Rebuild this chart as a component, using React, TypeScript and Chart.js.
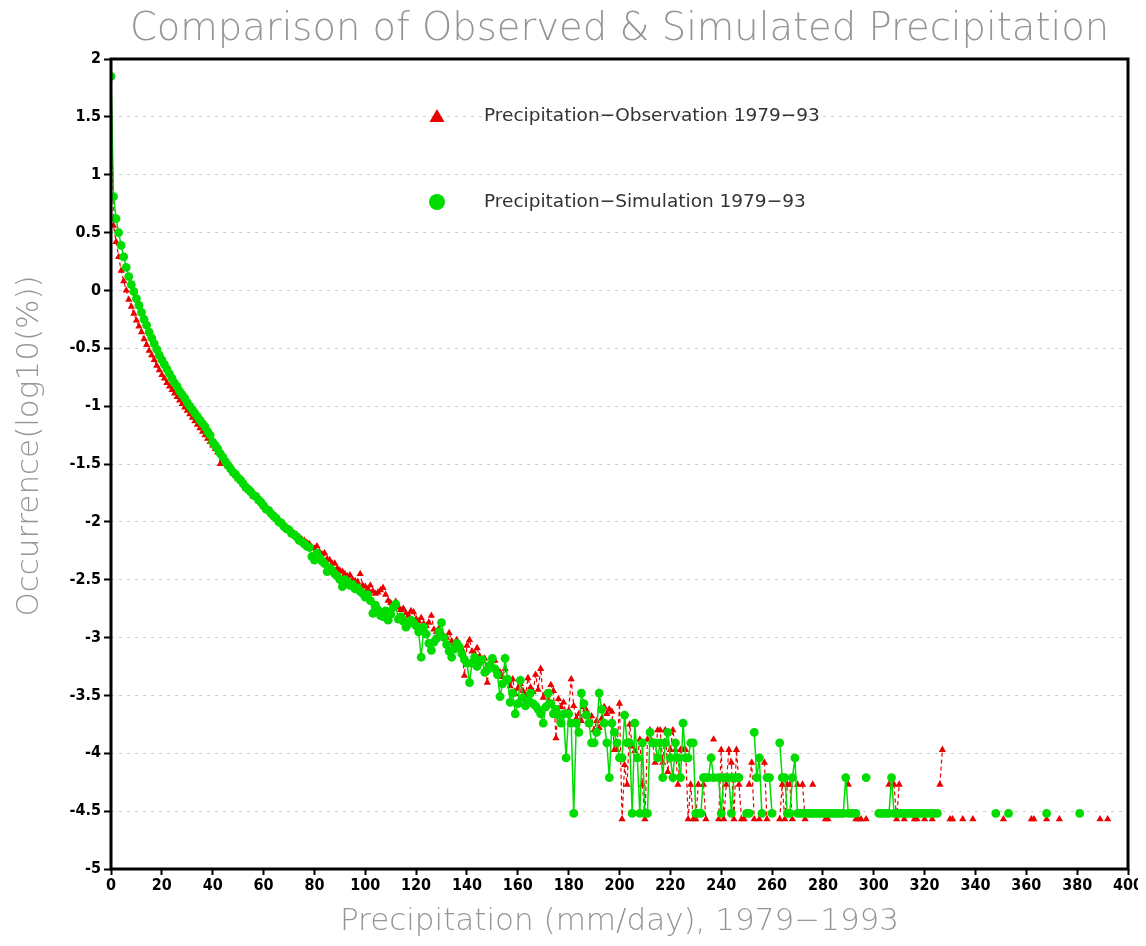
import React, { useEffect, useRef } from "react";
import { Chart, registerables } from "chart.js";

Chart.register(...registerables);

const TITLE = "Comparison of Observed & Simulated Precipitation";
const X_TITLE = "Precipitation (mm/day), 1979\u22121993";
const Y_TITLE = "Occurrence(log10(%))";
const OBS_LABEL = "Precipitation\u2212Observation 1979\u221293";
const SIM_LABEL = "Precipitation\u2212Simulation 1979\u221293";

const xTicks = [0, 20, 40, 60, 80, 100, 120, 140, 160, 180, 200, 220, 240, 260, 280, 300, 320, 340, 360, 380, 400];
const yTicks = [2, 1.5, 1, 0.5, 0, -0.5, -1, -1.5, -2, -2.5, -3, -3.5, -4, -4.5, -5];

// values per 1 mm/day bin, starting at bin 0 (null = no occurrence)
const simValues: (number | null)[] = [
  1.85, 0.81, 0.62, 0.50, 0.39, 0.29, 0.20, 0.12, 0.05, -0.01,
  -0.07, -0.13, -0.19, -0.25, -0.30, -0.36, -0.41, -0.46, -0.51, -0.56,
  -0.60, -0.64, -0.68, -0.72, -0.76, -0.80, -0.83, -0.87, -0.90, -0.93,
  -0.97, -1.00, -1.03, -1.06, -1.09, -1.12, -1.15, -1.18, -1.22, -1.25,
  -1.31, -1.34, -1.37, -1.41, -1.44, -1.48, -1.51, -1.54, -1.57, -1.59,
  -1.62, -1.64, -1.67, -1.70, -1.72, -1.74, -1.77, -1.78, -1.81, -1.83,
  -1.86, -1.89, -1.90, -1.93, -1.95, -1.97, -2.00, -2.01, -2.04, -2.06,
  -2.07, -2.10, -2.11, -2.13, -2.16, -2.17, -2.19, -2.21, -2.22, -2.30,
  -2.33, -2.27, -2.31, -2.34, -2.36, -2.43, -2.40, -2.42, -2.45, -2.47,
  -2.50, -2.56, -2.50, -2.52, -2.55, -2.54, -2.58, -2.57, -2.60, -2.62,
  -2.65, -2.63, -2.68, -2.79, -2.72, -2.76, -2.81, -2.82, -2.77, -2.85,
  -2.80, -2.74, -2.71, -2.84, -2.82, -2.86, -2.91, -2.88, -2.85, -2.87,
  -2.90, -2.95, -3.17, -2.91, -2.97, -3.05, -3.11, -3.04, -3.01, -2.95,
  -2.87, -3.00, -3.06, -3.12, -3.17, -3.10, -3.05, -3.08, -3.14, -3.19,
  -3.22, -3.39, -3.22, -3.17, -3.25, -3.21, -3.19, -3.30, -3.28, -3.24,
  -3.18, -3.27, -3.32, -3.51, -3.40, -3.18, -3.36, -3.56, -3.48, -3.66,
  -3.57, -3.37, -3.52, -3.59, -3.55, -3.48, -3.57, -3.59, -3.62, -3.66,
  -3.74, -3.60, -3.48, -3.57, -3.66, -3.62, -3.67, -3.74, -3.66, -4.04,
  -3.66, -3.74, -4.52, -3.74, -3.82, -3.48, -3.57, -3.67, -3.74, -3.91,
  -3.91, -3.82, -3.48, -3.62, -3.74, -3.91, -4.21, -3.74, -3.82, -3.91,
  -4.04, -4.04, -3.67, -3.91, -3.91, -4.52, -3.74, -4.04, -4.52, -3.91,
  -4.52, -4.52, -3.82, -3.91, -3.91, -4.04, -3.91, -4.21, -3.91, -3.82,
  -4.04, -4.21, -3.91, -4.04, -4.21, -3.74, -4.04, -4.04, -3.91, -3.91,
  -4.52, -4.52, -4.52, -4.21, -4.21, -4.21, -4.04, -4.21, null, -4.21,
  -4.52, -4.21, -4.21, -4.21, -4.52, -4.21, -4.21, -4.21, null, null,
  -4.52, -4.52, null, -3.82, -4.21, -4.04, -4.52, null, -4.21, -4.21,
  -4.52, null, null, -3.91, -4.21, -4.21, -4.52, -4.52, -4.21, -4.04,
  -4.52, -4.52, -4.52, -4.52, -4.52, -4.52, -4.52, -4.52, -4.52, -4.52,
  -4.52, -4.52, -4.52, -4.52, -4.52, -4.52, -4.52, -4.52, -4.52, -4.21,
  -4.52, -4.52, -4.52, -4.52, null, null, null, -4.21, null, null,
  null, null, -4.52, -4.52, -4.52, -4.52, -4.52, -4.21, -4.52, -4.52,
  -4.52, -4.52, -4.52, -4.52, -4.52, -4.52, -4.52, -4.52, -4.52, -4.52,
  -4.52, -4.52, -4.52, -4.52, -4.52, -4.52, null, null, null, null,
  null, null, null, null, null, null, null, null, null, null,
  null, null, null, null, null, null, null, null, -4.52, null,
  null, null, null, -4.52, null, null, null, null, null, null,
  null, null, null, null, null, null, null, null, -4.52, null,
  null, null, null, null, null, null, null, null, null, null,
  null, -4.52,
];

const obsValues: (number | null)[] = [
  1.87, 0.56, 0.42, 0.29, 0.17, 0.08, 0.00, -0.08, -0.14, -0.20,
  -0.26, -0.31, -0.36, -0.42, -0.47, -0.52, -0.56, -0.60, -0.65, -0.69,
  -0.73, -0.76, -0.80, -0.83, -0.86, -0.89, -0.92, -0.95, -0.98, -1.01,
  -1.04, -1.07, -1.10, -1.13, -1.16, -1.19, -1.22, -1.25, -1.28, -1.31,
  -1.34, -1.37, -1.40, -1.50, -1.46, -1.49, -1.52, -1.55, -1.58, -1.60,
  -1.63, -1.65, -1.68, -1.71, -1.73, -1.75, -1.78, -1.79, -1.82, -1.84,
  -1.87, -1.88, -1.91, -1.93, -1.94, -1.97, -1.98, -2.01, -2.02, -2.05,
  -2.06, -2.08, -2.10, -2.11, -2.13, -2.15, -2.16, -2.18, -2.19, -2.22,
  -2.23, -2.21, -2.26, -2.28, -2.27, -2.32, -2.33, -2.36, -2.36, -2.40,
  -2.42, -2.43, -2.45, -2.47, -2.46, -2.50, -2.51, -2.52, -2.45, -2.55,
  -2.56, -2.58, -2.55, -2.60, -2.62, -2.61, -2.59, -2.57, -2.63, -2.68,
  -2.70, -2.72, -2.69, -2.74, -2.76, -2.75, -2.79, -2.81, -2.77, -2.78,
  -2.84, -2.86, -2.83, -2.88, -2.90, -2.87, -2.81, -2.93, -2.95, -2.92,
  -2.97, -2.99, -3.00, -2.96, -3.03, -3.05, -3.02, -3.08, -3.10, -3.33,
  -3.07, -3.02, -3.12, -3.14, -3.09, -3.16, -3.20, -3.18, -3.39, -3.22,
  -3.25, -3.20, -3.28, -3.30, -3.34, -3.27, -3.38, -3.42, -3.36, -3.49,
  -3.44, -3.40, -3.46, -3.50, -3.35, -3.43, -3.47, -3.32, -3.45, -3.27,
  -3.52, -3.48, -3.55, -3.41, -3.46, -3.87, -3.53, -3.60, -3.56, -3.66,
  -3.63, -3.36, -3.59, -3.70, -3.66, -3.72, -3.60, -3.63, -3.75, -3.68,
  -3.80, -3.72, -3.78, -3.70, -3.60, -3.66, -3.62, -3.64, -3.97, -3.97,
  -3.57, -4.57, -4.10, -4.27, -3.75, -3.94, -3.98, -4.05, -3.88, -4.27,
  -4.57, -3.88, -3.80, -3.90, -4.08, -3.80, -3.80, -4.08, -3.80, -4.16,
  -3.97, -3.80, -3.97, -4.27, -3.97, -3.97, -3.97, -4.57, -4.27, -4.57,
  -4.57, -4.27, null, -4.27, -4.57, null, null, -3.88, null, -4.57,
  -3.97, -4.57, -4.27, -3.97, -4.08, -4.57, -3.97, -4.27, -4.57, -4.57,
  null, -4.27, -4.08, -4.57, null, -4.57, null, -4.08, -4.57, null,
  null, null, null, -4.57, -4.27, -4.57, -4.27, -4.27, -4.57, null,
  -4.27, null, -4.27, -4.57, null, null, -4.27, null, null, null,
  null, -4.57, -4.57, null, null, null, null, null, null, null,
  -4.27, null, null, -4.57, -4.57, -4.57, null, -4.57, null, null,
  null, null, null, null, null, null, -4.27, null, -4.27, -4.57,
  -4.27, null, -4.57, null, null, null, -4.57, -4.57, null, null,
  -4.57, null, null, -4.57, null, null, -4.27, -3.97, null, null,
  -4.57, -4.57, null, null, null, -4.57, null, null, null, -4.57,
  null, null, null, null, null, null, null, null, null, null,
  null, -4.57, null, null, null, null, null, null, null, null,
  null, null, -4.57, -4.57, null, null, null, null, -4.57, null,
  null, null, null, -4.57, null, null, null, null, null, null,
  null, null, null, null, null, null, null, null, null, -4.57,
  null, null, -4.57,
];

const RED = "rgb(235,0,0)";
const GREEN = "rgb(0,220,0)";

const toPoints = (vals: (number | null)[]) => vals.map((v, i) => ({ x: i, y: v }));

const decorPlugin = {
  id: "decor",
  afterDraw(chart: any) {
    const { ctx, chartArea: a } = chart;
    ctx.save();
    // frame
    ctx.strokeStyle = "#000";
    ctx.lineWidth = 3;
    ctx.strokeRect(a.left, a.top, a.right - a.left, a.bottom - a.top);

    const cx = (a.left + a.right) / 2;
    // title
    ctx.fillStyle = "#959595";
    ctx.font = '200 38.5px "DejaVu Sans"';
    ctx.textAlign = "center";
    ctx.textBaseline = "alphabetic";
    ctx.fillText(TITLE, cx, 32);

    // x title
    ctx.font = '200 31px "DejaVu Sans"';
    ctx.textBaseline = "middle";
    ctx.fillText(X_TITLE, cx, 914);

    // y title
    ctx.save();
    ctx.translate(22, 438);
    ctx.rotate(-Math.PI / 2);
    ctx.font = '200 31px "DejaVu Sans"';
    ctx.fillText(Y_TITLE, 0, 0);
    ctx.restore();

    // legend
    ctx.fillStyle = RED;
    ctx.beginPath();
    ctx.moveTo(429, 101);
    ctx.lineTo(436.5, 114);
    ctx.lineTo(421.5, 114);
    ctx.closePath();
    ctx.fill();
    ctx.fillStyle = GREEN;
    ctx.beginPath();
    ctx.arc(429, 194, 8, 0, Math.PI * 2);
    ctx.fill();

    ctx.fillStyle = "#333";
    ctx.font = '18.5px "DejaVu Sans"';
    ctx.textAlign = "left";
    ctx.textBaseline = "middle";
    ctx.fillText(OBS_LABEL, 476, 108);
    ctx.fillText(SIM_LABEL, 476, 194);
    ctx.restore();
  },
};

export default function App() {
  const ref = useRef<HTMLCanvasElement | null>(null);

  useEffect(() => {
    if (!ref.current) return;
    const tickFont = { family: '"DejaVu Sans Condensed", "Liberation Sans Narrow", sans-serif', size: 16, weight: "bold" as const };
    const chart = new Chart(ref.current, {
      type: "line",
      data: {
        datasets: [
          {
            label: SIM_LABEL,
            data: toPoints(simValues),
            borderColor: GREEN,
            backgroundColor: GREEN,
            pointBackgroundColor: GREEN,
            pointBorderWidth: 0,
            pointStyle: "circle",
            pointRadius: 4.4,
            borderWidth: 1.5,
            spanGaps: false,
            order: 0,
          },
          {
            label: OBS_LABEL,
            data: toPoints(obsValues),
            borderColor: RED,
            backgroundColor: RED,
            pointBackgroundColor: RED,
            pointBorderWidth: 0,
            pointStyle: "triangle",
            pointRadius: 4.2,
            borderWidth: 1.2,
            borderDash: [4, 3],
            spanGaps: false,
            order: 1,
          },
        ],
      },
      options: {
        responsive: false,
        animation: false,
        devicePixelRatio: 1,
        layout: { padding: { top: 51, right: 10, left: 0, bottom: 0 } },
        plugins: {
          legend: { display: false },
          tooltip: { enabled: false },
          title: { display: false },
        },
        scales: {
          x: {
            type: "linear",
            min: 0,
            max: 400,
            afterBuildTicks: (s: any) => {
              s.ticks = xTicks.map((v) => ({ value: v }));
            },
            afterFit: (s: any) => {
              s.height = 69;
              s.paddingLeft = 0;
              s.paddingRight = 0;
            },
            ticks: {
              autoSkip: false,
              maxRotation: 0,
              color: "#000",
              font: tickFont,
              padding: 1,
              callback: (v: any) => String(v),
            },
            grid: {
              drawOnChartArea: false,
              drawTicks: true,
              tickLength: 6,
              tickColor: "#000",
              tickWidth: 2,
            },
            border: { display: false },
          },
          y: {
            type: "linear",
            min: -5,
            max: 2,
            afterBuildTicks: (s: any) => {
              s.ticks = yTicks.map((v) => ({ value: v }));
            },
            afterFit: (s: any) => {
              s.width = 103;
              s.paddingTop = 0;
              s.paddingBottom = 0;
            },
            ticks: {
              autoSkip: false,
              color: "#000",
              font: tickFont,
              padding: 3,
              callback: (v: any) => String(v),
            },
            grid: {
              color: "#cfcfcf",
              lineWidth: 1,
              tickLength: 7,
              tickColor: "#000",
              tickWidth: 2,
            },
            border: { display: false, dash: [3, 5] },
          },
        },
      },
      plugins: [decorPlugin],
    } as any);
    return () => chart.destroy();
  }, []);

  return (
    <div style={{ width: 1130, height: 930 }}>
      <canvas ref={ref} width={1130} height={930} style={{ display: "block" }} />
    </div>
  );
}
